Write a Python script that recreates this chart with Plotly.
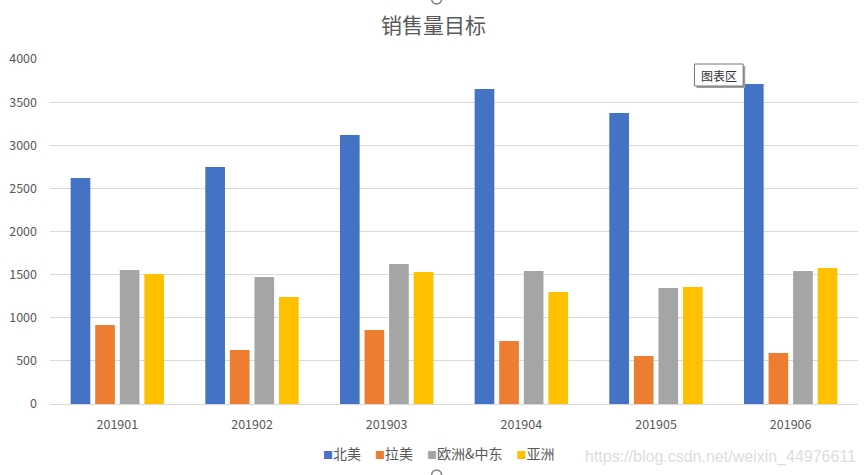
import plotly.graph_objs as go

# months and sales targets per region
months = ["201901", "201902", "201903", "201904", "201905", "201906"]
north_america = [2620, 2748, 3119, 3652, 3374, 3710]
latin_america = [916, 626, 858, 730, 557, 591]
europe_me = [1554, 1472, 1623, 1542, 1345, 1542]
asia = [1507, 1241, 1530, 1299, 1357, 1577]

series = [("北美", north_america, "#4472C4"),
          ("拉美", latin_america, "#ED7D31"),
          ("欧洲&中东", europe_me, "#A5A5A5"),
          ("亚洲", asia, "#FFC000")]

font_name = "Noto Sans CJK SC"
grey = "#595959"

fig = go.Figure()
for name, vals, col in series:
    fig.add_trace(go.Bar(x=months, y=vals, name=name, marker=dict(color=col, line=dict(width=0))))

fig.update_layout(
    width=867, height=475,
    paper_bgcolor="white", plot_bgcolor="white",
    font=dict(family=font_name, color=grey, size=12),
    title=dict(text="销售量目标", x=0.5, xanchor="center", y=0.945, yanchor="middle",
               font=dict(size=21, color=grey)),
    margin=dict(l=45, r=9, t=59, b=71),
    barmode="group", bargap=0.27, bargroupgap=0.2,
    showlegend=False,
    xaxis=dict(type="category", showgrid=False, showline=True, linecolor="#D9D9D9",
               linewidth=1, ticks="", ticklabelstandoff=9, tickfont=dict(size=12.5, color=grey)),
    yaxis=dict(range=[0, 4000], dtick=500, showgrid=True, gridcolor="#D9D9D9",
               gridwidth=1, zeroline=False, showline=False, ticks="", ticklabelstandoff=12,
               tickfont=dict(size=12.5, color=grey)),
)

# compact excel-style legend, built from the series list
parts = []
for name, vals, col in series:
    parts.append('<span style="color:%s;font-size:10px">■</span>%s' % (col, name))
legend_text = "\u2002\u2002".join(parts)
fig.add_annotation(text=legend_text, xref="paper", yref="paper", x=0.482, y=-0.142,
                   xanchor="center", yanchor="middle", showarrow=False,
                   font=dict(size=14, color=grey))

# chart-area tooltip seen in the screenshot: shadow, box, then label
fig.add_shape(type="rect", xref="paper", yref="paper", x0=0.8001, x1=0.8604, y0=0.9159, y1=0.9797,
              fillcolor="#9E9E9E", line=dict(width=0), layer="above")
fig.add_shape(type="rect", xref="paper", yref="paper", x0=0.7976, x1=0.8579, y0=0.9217, y1=0.9855,
              fillcolor="white", line=dict(color="#767676", width=1), layer="above")
fig.add_annotation(text="图表区", xref="paper", yref="paper", x=0.8278, y=0.9536,
                   xanchor="center", yanchor="middle", showarrow=False,
                   font=dict(size=12, color="#333333"))

# selection handles at top and bottom of the chart area
for cy in [1.174, -0.206]:
    fig.add_shape(type="circle", xref="paper", yref="paper",
                  x0=0.4785 - 0.0062, x1=0.4785 + 0.0062, y0=cy - 0.0145, y1=cy + 0.0145,
                  line=dict(color="#7F7F7F", width=1.5), fillcolor="white", layer="above")

# watermark
fig.add_annotation(text="https://blog.csdn.net/weixin_44976611", xref="paper", yref="paper",
                   x=1.0, y=-0.154, xanchor="right", yanchor="middle", showarrow=False,
                   font=dict(size=16, color="#DDDDDD", family="Liberation Sans"))

# drop the default page margin so the chart sits at the window corner
fig.write_html("out.html", config={"displayModeBar": False},
               post_script="document.body.style.margin='0px';")
